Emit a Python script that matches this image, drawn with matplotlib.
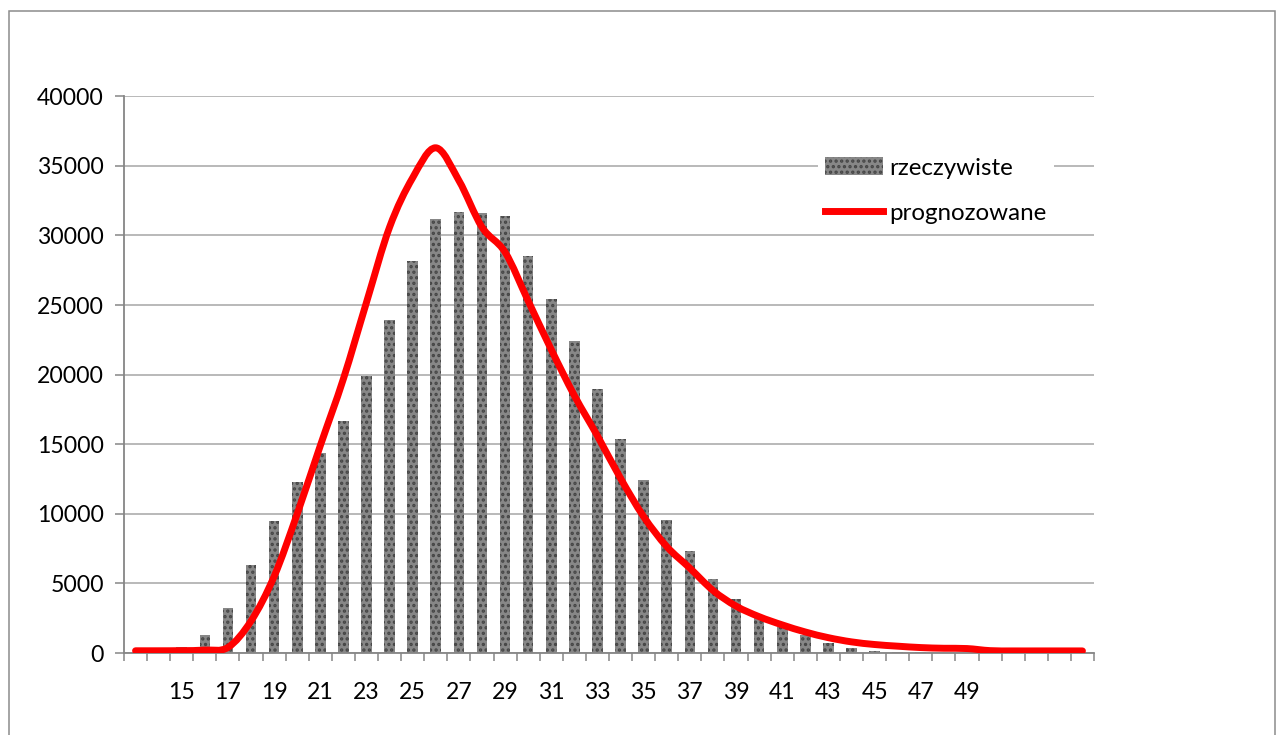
import numpy as np
import matplotlib
matplotlib.use('Agg')
import matplotlib.pyplot as plt
from matplotlib.path import Path
from matplotlib.patches import PathPatch, Rectangle
from matplotlib.lines import Line2D

# age categories (one bar per year), only every second label is printed
ages = list(range(13, 55))
tick_labels = ['15', '17', '19', '21', '23', '25', '27', '29', '31', '33',
               '35', '37', '39', '41', '43', '45', '47', '49']

actual = [0, 100, 400, 1300, 3200, 6300, 9450, 12300, 14350, 16650,
          19900, 23950, 28150, 31200, 31700, 31650, 31400, 28500, 25400, 22400,
          18950, 15350, 12400, 9550, 7300, 5350, 3850, 2750, 1900, 1300,
          700, 370, 170, 90, 40, 0, 0, 0, 0, 0,
          0, 0]

predicted = [160, 160, 170, 210, 400, 2300, 5500, 10000, 14900, 19700,
             25200, 30600, 34150, 36300, 33950, 30600, 28800, 25300, 21800, 18500,
             15600, 12550, 9800, 7650, 6100, 4500, 3370, 2610, 2020, 1510,
             1100, 800, 610, 490, 390, 340, 320, 170, 150, 150,
             150, 150]

W, H = 1276, 735
plt.rcParams['font.family'] = ['Lato', 'DejaVu Sans']
plt.rcParams['hatch.linewidth'] = 1.6
fs = 16.6
axis_grey = '#868686'
bar_face = '#878787'
bar_speck = '#454545'

fig = plt.figure(figsize=(W / 100, H / 100), dpi=100)
ax = fig.add_axes([124 / W, 1 - 653 / H, (1094 - 124) / W, (653 - 96.3) / H])

x = np.arange(len(ages))
ax.bar(x, actual, width=0.46, color=bar_face, edgecolor=bar_speck,
       linewidth=0, hatch='...', zorder=2)


def smooth_path(xs, ys):
    # excel-like smoothed line: catmull-rom segments drawn as cubic beziers
    pts = np.column_stack([xs, ys]).astype(float)
    verts = [pts[0]]
    codes = [Path.MOVETO]
    n = len(pts)
    for i in range(n - 1):
        p0 = pts[max(i - 1, 0)]
        p1 = pts[i]
        p2 = pts[i + 1]
        p3 = pts[min(i + 2, n - 1)]
        c1 = p1 + (p2 - p0) / 6
        c2 = p2 - (p3 - p1) / 6
        verts += [c1, c2, p2]
        codes += [Path.CURVE4] * 3
    return Path(verts, codes)


ax.add_patch(PathPatch(smooth_path(x, predicted), fill=False, edgecolor='#ff0000',
                       linewidth=5, capstyle='round', joinstyle='round', zorder=3))

ax.set_xlim(-0.5, len(ages) - 0.5)
ax.set_ylim(0, 40000)
ax.set_yticks(np.arange(0, 40001, 5000))
ax.yaxis.grid(True, color='#a6a6a6', linewidth=1.1, zorder=0)
ax.set_axisbelow(True)

label_pos = [ages.index(int(t)) for t in tick_labels]
ax.set_xticks(label_pos)
ax.set_xticklabels(tick_labels)
ax.set_xticks(np.arange(-0.5, len(ages)), minor=True)
ax.tick_params(axis='x', which='major', length=0, pad=21, labelsize=fs)
ax.tick_params(axis='x', which='minor', length=6, width=1.1, color=axis_grey, direction='out')
ax.tick_params(axis='y', length=6.5, width=1.1, color=axis_grey, pad=8, labelsize=fs)

for side in ['top', 'right']:
    ax.spines[side].set_visible(False)
for side in ['left', 'bottom']:
    ax.spines[side].set_color(axis_grey)
    ax.spines[side].set_linewidth(1.3)

handles = [Rectangle((0, 0), 1, 1, facecolor=bar_face, edgecolor=bar_speck,
                     linewidth=0, hatch='...'),
           Line2D([0], [0], color='#ff0000', linewidth=5)]
leg = ax.legend(handles, ['rzeczywiste', 'prognozowane'], loc='upper left',
                bbox_to_anchor=(818 / W, 1 - 150 / H), bbox_transform=fig.transFigure,
                frameon=True, facecolor='white', edgecolor='none', framealpha=1,
                fancybox=False, fontsize=17.4, borderpad=0.3, borderaxespad=0,
                handlelength=2.4, handleheight=0.75, handletextpad=0.25,
                labelspacing=1.0)
leg.set_zorder(5)

# outer chart border
fig.add_artist(Rectangle((8.5 / W, -0.05), (1274.5 - 8.5) / W, 1.05 - 11 / H,
                         transform=fig.transFigure, fill=False,
                         edgecolor='#8c8c8c', linewidth=1.1))

fig.savefig('out.png', dpi=100)
